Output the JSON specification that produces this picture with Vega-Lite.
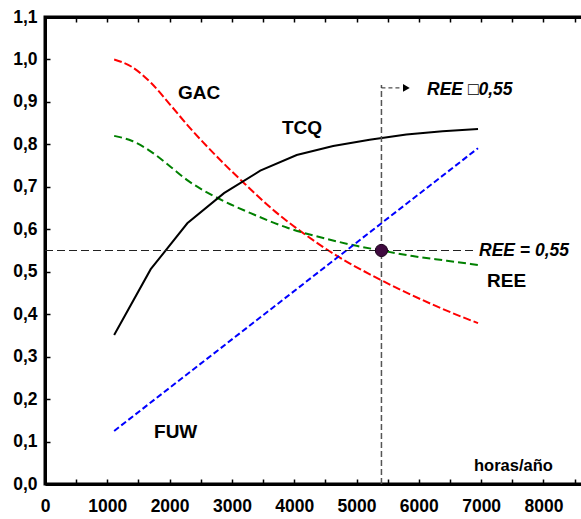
{
  "$schema": "https://vega.github.io/schema/vega-lite/v6.json",
  "width": 540,
  "height": 467,
  "autosize": "none",
  "padding": {"left": 45, "top": 17, "right": 0, "bottom": 35},
  "background": "white",
  "config": {
    "view": {"stroke": "black", "strokeWidth": 3, "fill": null},
    "axis": {
      "grid": false,
      "title": null,
      "domainColor": "black",
      "domainWidth": 3,
      "tickColor": "black",
      "tickWidth": 1.5,
      "tickSize": -5,
      "labelFont": "Liberation Sans",
      "labelFontWeight": "bold",
      "labelFontSize": 17.5,
      "labelColor": "black",
      "labelOverlap": false,
      "labelFlush": false
    }
  },
  "datasets": {
    "curves": [
      {"series": "GAC", "x": 1110, "y": 1.0},
      {"series": "GAC", "x": 1400, "y": 0.982},
      {"series": "GAC", "x": 1700, "y": 0.945},
      {"series": "GAC", "x": 2000, "y": 0.895},
      {"series": "GAC", "x": 2300, "y": 0.843},
      {"series": "GAC", "x": 2700, "y": 0.780},
      {"series": "GAC", "x": 3200, "y": 0.708},
      {"series": "GAC", "x": 3700, "y": 0.641},
      {"series": "GAC", "x": 4200, "y": 0.585},
      {"series": "GAC", "x": 4700, "y": 0.536},
      {"series": "GAC", "x": 5200, "y": 0.495},
      {"series": "GAC", "x": 5700, "y": 0.458},
      {"series": "GAC", "x": 6200, "y": 0.424},
      {"series": "GAC", "x": 6600, "y": 0.399},
      {"series": "GAC", "x": 6950, "y": 0.379},
      {"series": "REE", "x": 1110, "y": 0.820},
      {"series": "REE", "x": 1400, "y": 0.808},
      {"series": "REE", "x": 1700, "y": 0.783},
      {"series": "REE", "x": 2000, "y": 0.749},
      {"series": "REE", "x": 2300, "y": 0.714},
      {"series": "REE", "x": 2700, "y": 0.679},
      {"series": "REE", "x": 3300, "y": 0.638},
      {"series": "REE", "x": 3900, "y": 0.603},
      {"series": "REE", "x": 4500, "y": 0.578},
      {"series": "REE", "x": 5000, "y": 0.561},
      {"series": "REE", "x": 5400, "y": 0.550},
      {"series": "REE", "x": 5900, "y": 0.537},
      {"series": "REE", "x": 6450, "y": 0.526},
      {"series": "REE", "x": 6950, "y": 0.516},
      {"series": "FUW", "x": 1110, "y": 0.125},
      {"series": "FUW", "x": 6950, "y": 0.791}
    ],
    "tcq": [
      {"series": "TCQ", "x": 1110, "y": 0.351},
      {"series": "TCQ", "x": 1697, "y": 0.506},
      {"series": "TCQ", "x": 2284, "y": 0.614},
      {"series": "TCQ", "x": 2873, "y": 0.685},
      {"series": "TCQ", "x": 3455, "y": 0.738},
      {"series": "TCQ", "x": 4040, "y": 0.775},
      {"series": "TCQ", "x": 4625, "y": 0.796},
      {"series": "TCQ", "x": 5210, "y": 0.811},
      {"series": "TCQ", "x": 5800, "y": 0.823},
      {"series": "TCQ", "x": 6380, "y": 0.831},
      {"series": "TCQ", "x": 6950, "y": 0.836}
    ],
    "curveLabels": [
      {"label": "GAC", "x": 2135, "y": 0.921},
      {"label": "TCQ", "x": 3804, "y": 0.839},
      {"label": "REE", "x": 7095, "y": 0.478},
      {"label": "FUW", "x": 1750, "y": 0.1225}
    ],
    "notes": [
      {"label": "REE = 0,55", "x": 6966, "y": 0.55},
      {"label": "REE □0,55", "x": 6132, "y": 0.928}
    ]
  },
  "resolve": {"scale": {"x": "independent"}, "axis": {"x": "independent"}},
  "layer": [
    {
      "data": {"name": "curves"},
      "mark": {"type": "line", "strokeWidth": 2, "interpolate": "monotone"},
      "encoding": {
        "x": {
          "field": "x", "type": "quantitative",
          "scale": {"domain": [0, 8667], "nice": false, "zero": false},
          "axis": {
            "orient": "bottom",
            "values": [0, 500, 1000, 1500, 2000, 2500, 3000, 3500, 4000, 4500, 5000, 5500, 6000, 6500, 7000, 7500, 8000, 8500],
            "labelExpr": "datum.value % 1000 == 0 ? format(datum.value, 'd') : ''",
            "labelPadding": 18,
            "labelAlign": "center",
            "labelBaseline": "top"
          }
        },
        "y": {
          "field": "y", "type": "quantitative",
          "scale": {"domain": [0, 1.1], "nice": false, "zero": false},
          "axis": {
            "orient": "left",
            "values": [0, 0.05, 0.1, 0.15, 0.2, 0.25, 0.3, 0.35, 0.4, 0.45, 0.5, 0.55, 0.6, 0.65, 0.7, 0.75, 0.8, 0.85, 0.9, 0.95, 1.0, 1.05, 1.1],
            "labelExpr": "round(datum.value * 100) % 10 == 0 ? replace(format(datum.value, '.1f'), '.', ',') : ''",
            "labelPadding": 13,
            "labelAlign": "right",
            "labelBaseline": "middle"
          }
        },
        "color": {
          "field": "series", "type": "nominal",
          "scale": {"domain": ["GAC", "REE", "FUW"], "range": ["#ff0000", "#008000", "#0000ff"]},
          "legend": null
        },
        "strokeDash": {
          "field": "series", "type": "nominal",
          "scale": {"domain": ["GAC", "REE", "FUW"], "range": [[8, 3], [8, 4], [6, 3]]},
          "legend": null
        }
      }
    },
    {
      "data": {"name": "tcq"},
      "mark": {"type": "line", "strokeWidth": 2, "color": "black", "interpolate": "linear"},
      "encoding": {
        "x": {
          "field": "x", "type": "quantitative",
          "scale": {"domain": [0, 8667], "nice": false, "zero": false},
          "axis": {
            "orient": "top",
            "tickCount": 18,
            "labels": false,
            "domainColor": "#000001",
            "tickColor": "#000001"
          }
        },
        "y": {"field": "y", "type": "quantitative"}
      }
    },
    {
      "data": {"values": [{"x": 0, "x2": 6900, "y": 0.55}]},
      "mark": {"type": "rule", "color": "#222222", "strokeWidth": 1, "strokeDash": [8, 4]},
      "encoding": {
        "x": {"field": "x", "type": "quantitative", "scale": {"domain": [0, 8667], "nice": false, "zero": false}, "axis": null},
        "x2": {"field": "x2"},
        "y": {"field": "y", "type": "quantitative"}
      }
    },
    {
      "data": {"values": [{"x": 5400, "y": 0, "y2": 0.94}]},
      "mark": {"type": "rule", "color": "#555555", "strokeWidth": 1.5, "strokeDash": [6, 3]},
      "encoding": {
        "x": {"field": "x", "type": "quantitative", "scale": {"domain": [0, 8667], "nice": false, "zero": false}, "axis": null},
        "y": {"field": "y", "type": "quantitative"},
        "y2": {"field": "y2"}
      }
    },
    {
      "data": {"values": [{"x": 5400, "x2": 5700, "y": 0.933}]},
      "mark": {"type": "rule", "color": "#222222", "strokeWidth": 1, "strokeDash": [4, 3]},
      "encoding": {
        "x": {"field": "x", "type": "quantitative", "scale": {"domain": [0, 8667], "nice": false, "zero": false}, "axis": null},
        "x2": {"field": "x2"},
        "y": {"field": "y", "type": "quantitative"}
      }
    },
    {
      "data": {"values": [{"x": 5800, "y": 0.933}]},
      "mark": {"type": "point", "shape": "triangle-right", "filled": true, "color": "black", "size": 60, "opacity": 1},
      "encoding": {
        "x": {"field": "x", "type": "quantitative", "scale": {"domain": [0, 8667], "nice": false, "zero": false}, "axis": null},
        "y": {"field": "y", "type": "quantitative"}
      }
    },
    {
      "data": {"values": [{"x": 5400, "y": 0.55}]},
      "mark": {"type": "point", "shape": "circle", "filled": true, "color": "#3f0a3f", "size": 150, "opacity": 1, "stroke": "#1a001a", "strokeWidth": 1},
      "encoding": {
        "x": {"field": "x", "type": "quantitative", "scale": {"domain": [0, 8667], "nice": false, "zero": false}, "axis": null},
        "y": {"field": "y", "type": "quantitative"}
      }
    },
    {
      "data": {"name": "curveLabels"},
      "mark": {"type": "text", "font": "Liberation Sans", "fontWeight": "bold", "fontSize": 19, "align": "left", "baseline": "middle", "color": "black"},
      "encoding": {
        "x": {"field": "x", "type": "quantitative", "scale": {"domain": [0, 8667], "nice": false, "zero": false}, "axis": null},
        "y": {"field": "y", "type": "quantitative"},
        "text": {"field": "label"}
      }
    },
    {
      "data": {"name": "notes"},
      "mark": {"type": "text", "font": "Liberation Sans", "fontWeight": "bold", "fontStyle": "italic", "fontSize": 17.5, "align": "left", "baseline": "middle", "color": "black"},
      "encoding": {
        "x": {"field": "x", "type": "quantitative", "scale": {"domain": [0, 8667], "nice": false, "zero": false}, "axis": null},
        "y": {"field": "y", "type": "quantitative"},
        "text": {"field": "label"}
      }
    },
    {
      "data": {"values": [{"label": "horas/año", "x": 6886, "y": 0.042}]},
      "mark": {"type": "text", "font": "Liberation Sans", "fontWeight": "bold", "fontSize": 16.5, "align": "left", "baseline": "middle", "color": "black"},
      "encoding": {
        "x": {"field": "x", "type": "quantitative", "scale": {"domain": [0, 8667], "nice": false, "zero": false}, "axis": null},
        "y": {"field": "y", "type": "quantitative"},
        "text": {"field": "label"}
      }
    }
  ]
}
